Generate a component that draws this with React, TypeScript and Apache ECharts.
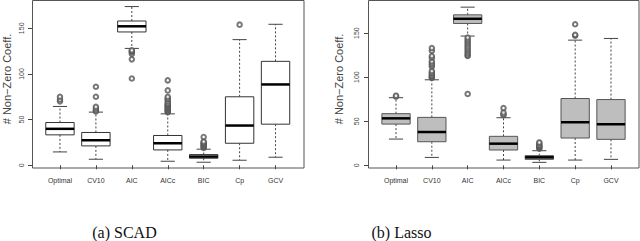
import React, { useEffect, useRef } from "react";
import * as echarts from "echarts";

const categories = ["Optimal", "CV10", "AIC", "AICc", "BIC", "Cp", "GCV"];
const yTicks = [0, 50, 100, 150];

// SCAD
const scadLow = [14.6, 6.6, 128, 4.4, 3.3, 5.5, 8.8];
const scadQ1 = [33.3, 21.2, 146, 16.8, 7.7, 24.1, 45];
const scadMed = [39.9, 27.4, 152.2, 24.1, 9.5, 43.5, 88.5];
const scadQ3 = [46.8, 35.9, 158, 32.6, 11.7, 75, 113.8];
const scadHigh = [64.4, 58.2, 173.8, 56.3, 17.6, 137.6, 154.4];
const scadOutliers = [
  [70, 72, 75],
  [59, 60, 62, 64, 75, 86],
  [95, 116, 122, 124, 125, 126],
  [58, 59, 60, 61, 62, 63, 64, 65, 66, 67, 68, 70, 72, 73, 75, 82, 93],
  [19, 20, 21, 22, 23, 24, 25, 26, 31],
  [154],
  [],
];

// Lasso
const lassoLow = [29.8, 9, 146.6, 6, 3.4, 6, 6.8];
const lassoQ1 = [46.8, 26.8, 160.9, 17.4, 6.8, 31, 29.5];
const lassoMed = [53.3, 37.8, 166.2, 24.6, 9.1, 48.9, 46.6];
const lassoQ3 = [58.6, 54.4, 170.7, 32.9, 11, 75.8, 74.6];
const lassoHigh = [76.7, 97, 179.4, 54, 16.6, 142, 143.9];
const lassoOutliers = [
  [78, 79],
  [99, 100, 101, 102, 104, 105, 107, 112, 114, 116, 118, 122, 124, 130, 133],
  [81, 124, 125, 127, 129, 131, 133, 135, 137, 139, 141, 143, 145],
  [57, 58, 60, 65],
  [19, 20, 21, 22, 23, 25, 26],
  [147, 148, 160],
  [],
];

const captions = ["(a) SCAD", "(b) Lasso"];
const yTitle = "# Non\u2212Zero Coeff.";

function boxData(lo: number[], q1: number[], md: number[], q3: number[], hi: number[]) {
  return categories.map((_, i) => [i, lo[i], q1[i], md[i], q3[i], hi[i]]);
}
function outlierData(out: number[][]) {
  const res: number[][] = [];
  out.forEach((vals, i) => vals.forEach((v) => res.push([i, v])));
  return res;
}

function makeRender(fill: string, stroke: string) {
  return (params: any, api: any) => {
    const x = api.value(0);
    const lo = api.coord([x, api.value(1)]);
    const q1 = api.coord([x, api.value(2)]);
    const md = api.coord([x, api.value(3)]);
    const q3 = api.coord([x, api.value(4)]);
    const hi = api.coord([x, api.value(5)]);
    const band = api.size([1, 0])[0];
    const w = band * 0.79;
    const cx = lo[0];
    const dash = { stroke: "#444", lineWidth: 1, lineDash: [2, 2] };
    const solid = { stroke: "#444", lineWidth: 1 };
    return {
      type: "group",
      children: [
        { type: "line", shape: { x1: cx, y1: q3[1], x2: cx, y2: hi[1] }, style: dash },
        { type: "line", shape: { x1: cx, y1: q1[1], x2: cx, y2: lo[1] }, style: dash },
        { type: "line", shape: { x1: cx - w / 4, y1: hi[1], x2: cx + w / 4, y2: hi[1] }, style: solid },
        { type: "line", shape: { x1: cx - w / 4, y1: lo[1], x2: cx + w / 4, y2: lo[1] }, style: solid },
        {
          type: "rect",
          shape: { x: cx - w / 2, y: q3[1], width: w, height: q1[1] - q3[1] },
          style: { fill, stroke, lineWidth: 1 },
        },
        { type: "line", shape: { x1: cx - w / 2, y1: md[1], x2: cx + w / 2, y2: md[1] }, style: { stroke: "#000", lineWidth: 2.5 } },
      ],
    };
  };
}

export default function App() {
  const ref = useRef<HTMLDivElement>(null);
  useEffect(() => {
    if (!ref.current) return;
    const chart = echarts.init(ref.current, null, { renderer: "svg" });
    const font = "Liberation Sans";
    const grids = [
      { left: 42, top: 0, width: 251.5, height: 168 },
      { left: 378.1, top: 0, width: 250.8, height: 168 },
    ];
    const yMax = [181, 187.5];
    const offsets = [10, 10.1];
    const nameGaps = [20, 24];
    const labelMargins = [7, 8];
    const option: any = {
      animation: false,
      backgroundColor: "#fff",
      grid: grids,
      xAxis: [0, 1].map((g) => ({
        type: "category",
        gridIndex: g,
        data: categories,
        axisLine: { show: false },
        axisTick: { show: true, alignWithLabel: true, length: 4, lineStyle: { color: "#444" } },
        axisLabel: { fontSize: 7, fontFamily: font, color: "#333", margin: 9, interval: 0 },
        splitLine: { show: false },
      })),
      yAxis: [0, 1].map((g) => ({
        type: "value",
        gridIndex: g,
        min: -3,
        max: yMax[g],
        offset: offsets[g],
        name: yTitle,
        nameLocation: "middle",
        nameRotate: 90,
        nameGap: nameGaps[g],
        nameTextStyle: { fontSize: 11, fontFamily: font, color: "#444", padding: [0, 0, 0, 10] },
        axisLine: { show: false },
        axisTick: { show: true, length: 4, customValues: yTicks, lineStyle: { color: "#444" } },
        axisLabel: {
          fontSize: 7,
          fontFamily: font,
          color: "#444",
          rotate: 90,
          margin: labelMargins[g],
          customValues: yTicks,
        },
        splitLine: { show: false },
      })),
      graphic: [
        { type: "rect", shape: { x: 32.5, y: 0.5, width: 271.5, height: 167.5 }, style: { fill: "none", stroke: "#555", lineWidth: 1 } },
        { type: "rect", shape: { x: 368.5, y: 0.5, width: 270.5, height: 167.5 }, style: { fill: "none", stroke: "#555", lineWidth: 1 } },
        {
          type: "text",
          x: 124.5,
          y: 232,
          style: { text: captions[0], fontSize: 16, fontFamily: "Liberation Serif", fill: "#111", align: "center", verticalAlign: "middle" },
        },
        {
          type: "text",
          x: 401.5,
          y: 232,
          style: { text: captions[1], fontSize: 16, fontFamily: "Liberation Serif", fill: "#111", align: "center", verticalAlign: "middle" },
        },
      ],
      series: [
        {
          type: "custom",
          xAxisIndex: 0,
          yAxisIndex: 0,
          renderItem: makeRender("#fff", "#333"),
          encode: { x: 0, y: [1, 2, 3, 4, 5] },
          data: boxData(scadLow, scadQ1, scadMed, scadQ3, scadHigh),
        },
        {
          type: "scatter",
          xAxisIndex: 0,
          yAxisIndex: 0,
          symbol: "emptyCircle",
          symbolSize: 4.5,
          itemStyle: { color: "#555", borderWidth: 0.6 },
          data: outlierData(scadOutliers),
        },
        {
          type: "custom",
          xAxisIndex: 1,
          yAxisIndex: 1,
          renderItem: makeRender("#bebebe", "#555"),
          encode: { x: 0, y: [1, 2, 3, 4, 5] },
          data: boxData(lassoLow, lassoQ1, lassoMed, lassoQ3, lassoHigh),
        },
        {
          type: "scatter",
          xAxisIndex: 1,
          yAxisIndex: 1,
          symbol: "emptyCircle",
          symbolSize: 4.5,
          itemStyle: { color: "#555", borderWidth: 0.6 },
          data: outlierData(lassoOutliers),
        },
      ],
    };
    chart.setOption(option);
    return () => chart.dispose();
  }, []);
  return (
    <div
      ref={ref}
      style={{ position: "fixed", left: 0, top: 0, width: 640, height: 241, background: "#fff" }}
    />
  );
}
